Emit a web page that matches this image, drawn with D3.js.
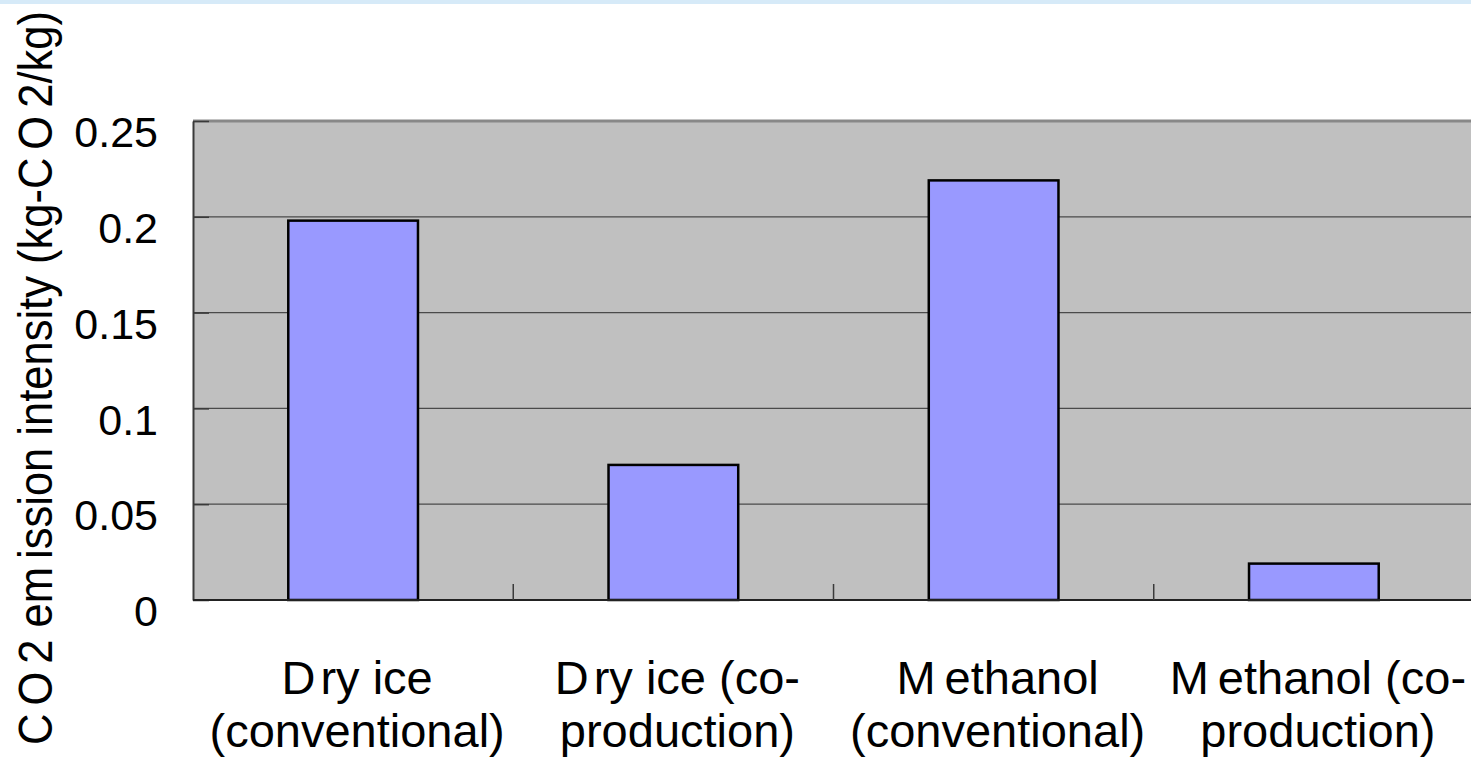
<!DOCTYPE html>
<html>
<head>
<meta charset="utf-8">
<script src="https://cdn.jsdelivr.net/npm/d3@7"></script>
<style>
  html, body { margin: 0; padding: 0; background: #fff; overflow: hidden; }
  svg { display: block; }
  text { font-family: "Liberation Sans", Arial, sans-serif; fill: #000; }
</style>
</head>
<body>
<svg id="chart" width="1471" height="761"></svg>
<script>
// Chart data
const categories = ["Dry ice (conventional)", "Dry ice (co-production)", "Methanol (conventional)", "Methanol (co-production)"];
const categoryLines = [["Dry ice", "(conventional)"], ["Dry ice (co-", "production)"], ["Methanol", "(conventional)"], ["Methanol (co-", "production)"]];
const values = [0.198, 0.0705, 0.219, 0.019];
const yTicks = [0, 0.05, 0.1, 0.15, 0.2, 0.25];
const yTickLabels = ["0", "0.05", "0.1", "0.15", "0.2", "0.25"];
const yTitleParts = ["C", "O", "2 em", "ission intensity (kg-C", "O", "2/kg)"];

const svg = d3.select("#chart");
const W = 1471, H = 761;
const plot = { left: 193, top: 121, right: 1474, bottom: 600 };

// thin light-blue band along the top edge
svg.append("rect").attr("x", 0).attr("y", 0).attr("width", W).attr("height", 4).attr("fill", "#d6eaf8");

const x = d3.scaleBand().domain(categories).range([plot.left, plot.right]).paddingInner(0).paddingOuter(0);
const y = d3.scaleLinear().domain([0, 0.25]).range([plot.bottom, plot.top]);

// plot area background
svg.append("rect")
  .attr("x", plot.left).attr("y", plot.top)
  .attr("width", plot.right - plot.left).attr("height", plot.bottom - plot.top)
  .attr("fill", "#c0c0c0");

// horizontal gridlines
svg.append("g").selectAll("line")
  .data(yTicks.filter(v => v > 0 && v < 0.25))
  .join("line")
  .attr("x1", plot.left).attr("x2", plot.right)
  .attr("y1", d => y(d)).attr("y2", d => y(d))
  .attr("stroke", "#4a4a4a").attr("stroke-width", 1.2);

// top border of plot area
svg.append("line")
  .attr("x1", plot.left).attr("x2", plot.right)
  .attr("y1", y(0.25)).attr("y2", y(0.25))
  .attr("stroke", "#888").attr("stroke-width", 3);

// bars
const barW = x.bandwidth() * 0.405;
svg.append("g").selectAll("rect")
  .data(values)
  .join("rect")
  .attr("x", (d, i) => x(categories[i]) + (x.bandwidth() - barW) / 2)
  .attr("y", d => y(d))
  .attr("width", barW)
  .attr("height", d => y(0) - y(d))
  .attr("fill", "#9999ff")
  .attr("stroke", "#000")
  .attr("stroke-width", 2.5);

// y axis
const yAxis = d3.axisLeft(y)
  .tickValues(yTicks)
  .tickFormat((d, i) => yTickLabels[i])
  .tickSizeInner(-16)
  .tickSizeOuter(0)
  .tickPadding(35);
const gy = svg.append("g").attr("transform", `translate(${plot.left},0)`).call(yAxis);
gy.select(".domain").attr("stroke", "#3a3a3a").attr("stroke-width", 2);
gy.selectAll(".tick line").attr("stroke", "#3a3a3a").attr("stroke-width", 1.5);
gy.selectAll(".tick text")
  .attr("y", 12)
  .style("font-family", "'Liberation Sans', Arial, sans-serif")
  .style("font-size", "43px")
  .attr("fill", "#000");

// category axis baseline
svg.append("line")
  .attr("x1", plot.left).attr("x2", plot.right)
  .attr("y1", y(0)).attr("y2", y(0))
  .attr("stroke", "#222").attr("stroke-width", 2);

// category boundary ticks (inside the plot)
svg.append("g").selectAll("line")
  .data(categories.slice(1))
  .join("line")
  .attr("x1", d => x(d)).attr("x2", d => x(d))
  .attr("y1", y(0)).attr("y2", y(0) - 16)
  .attr("stroke", "#3a3a3a").attr("stroke-width", 1.5);

// category labels, two lines each
const lab = svg.append("g").selectAll("text")
  .data(categories)
  .join("text")
  .attr("text-anchor", "middle")
  .style("font-size", "47px")
  .attr("transform", d => `translate(${x(d) + x.bandwidth() / 2 + 4},0)`);
lab.each(function (d, i) {
  const t = d3.select(this);
  const [l1, l2] = categoryLines[i];
  // first line: wider gap after the leading capital
  const a = t.append("tspan").attr("x", 0).attr("y", 694);
  a.append("tspan").text(l1.charAt(0));
  a.append("tspan").attr("dx", l1.startsWith("M") ? 9 : 5).text(l1.slice(1));
  t.append("tspan").attr("x", 0).attr("y", 747).text(l2);
});

// y axis title, narrowed horizontally so it fits the left margin
const title = svg.append("text")
  .attr("text-anchor", "middle")
  .style("font-size", "49px");
yTitleParts.forEach((p, i) => {
  title.append("tspan").attr("dx", i === 0 ? 0 : 9).text(p);
});
const natural = title.node().getComputedTextLength() + 9 * (yTitleParts.length - 1);
const squeeze = 734 / natural;
title.attr("transform", `translate(52,378) rotate(-90) scale(${squeeze},1)`);
</script>
</body>
</html>
